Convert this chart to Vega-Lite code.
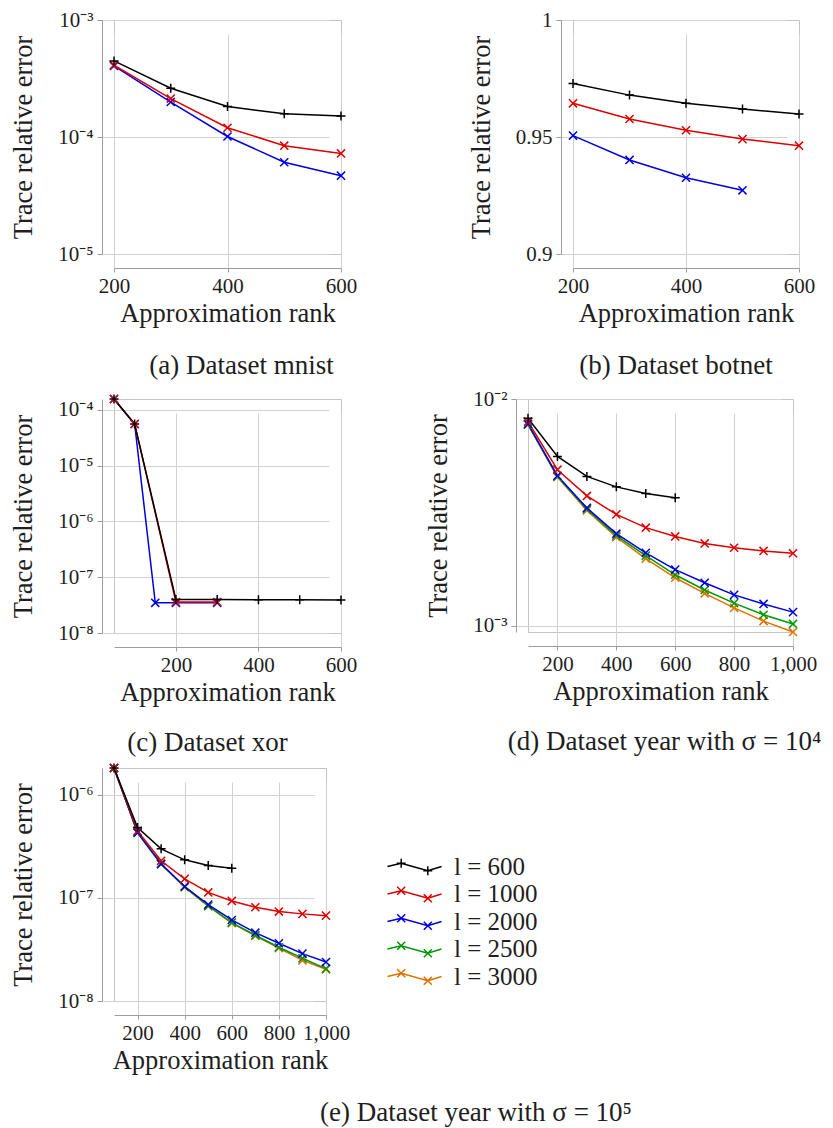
{
  "$schema": "https://vega.github.io/schema/vega-lite/v6.json",
  "padding": {"left": 10, "top": 8, "right": 5, "bottom": 5},
  "spacing": 8,
  "resolve": {"scale": {"color": "independent", "shape": "independent"}, "legend": {"color": "independent", "shape": "independent"}},
  "datasets": {
    "mnist": [
      {"l": "2000", "rank": 200, "err": 4.05e-4}, {"l": "2000", "rank": 300, "err": 1.99e-4}, {"l": "2000", "rank": 400, "err": 1.01e-4}, {"l": "2000", "rank": 500, "err": 6.08e-5}, {"l": "2000", "rank": 600, "err": 4.67e-5},
      {"l": "1000", "rank": 200, "err": 4.12e-4}, {"l": "1000", "rank": 300, "err": 2.13e-4}, {"l": "1000", "rank": 400, "err": 1.20e-4}, {"l": "1000", "rank": 500, "err": 8.43e-5}, {"l": "1000", "rank": 600, "err": 7.24e-5},
      {"l": "600", "rank": 200, "err": 4.47e-4}, {"l": "600", "rank": 300, "err": 2.61e-4}, {"l": "600", "rank": 400, "err": 1.82e-4}, {"l": "600", "rank": 500, "err": 1.58e-4}, {"l": "600", "rank": 600, "err": 1.51e-4}
    ],
    "botnet": [
      {"l": "2000", "rank": 200, "err": 0.9506}, {"l": "2000", "rank": 300, "err": 0.9402}, {"l": "2000", "rank": 400, "err": 0.9326}, {"l": "2000", "rank": 500, "err": 0.9272},
      {"l": "1000", "rank": 200, "err": 0.9644}, {"l": "1000", "rank": 300, "err": 0.9577}, {"l": "1000", "rank": 400, "err": 0.9529}, {"l": "1000", "rank": 500, "err": 0.9491}, {"l": "1000", "rank": 600, "err": 0.9463},
      {"l": "600", "rank": 200, "err": 0.9729}, {"l": "600", "rank": 300, "err": 0.9679}, {"l": "600", "rank": 400, "err": 0.9644}, {"l": "600", "rank": 500, "err": 0.9620}, {"l": "600", "rank": 600, "err": 0.9598}
    ],
    "xor": [
      {"l": "2000", "rank": 50, "err": 1.57e-4}, {"l": "2000", "rank": 100, "err": 5.6e-5}, {"l": "2000", "rank": 150, "err": 3.48e-8}, {"l": "2000", "rank": 200, "err": 3.48e-8}, {"l": "2000", "rank": 300, "err": 3.48e-8},
      {"l": "1000", "rank": 50, "err": 1.57e-4}, {"l": "1000", "rank": 100, "err": 5.6e-5}, {"l": "1000", "rank": 200, "err": 3.6e-8}, {"l": "1000", "rank": 300, "err": 3.6e-8},
      {"l": "600", "rank": 50, "err": 1.57e-4}, {"l": "600", "rank": 100, "err": 5.6e-5}, {"l": "600", "rank": 200, "err": 4.0e-8}, {"l": "600", "rank": 300, "err": 4.0e-8}, {"l": "600", "rank": 400, "err": 3.95e-8}, {"l": "600", "rank": 500, "err": 3.95e-8}, {"l": "600", "rank": 600, "err": 3.9e-8}
    ],
    "year4": [
      {"l": "3000", "rank": 100, "err": 7.7e-3}, {"l": "3000", "rank": 200, "err": 4.53e-3}, {"l": "3000", "rank": 300, "err": 3.23e-3}, {"l": "3000", "rank": 400, "err": 2.46e-3}, {"l": "3000", "rank": 500, "err": 1.98e-3}, {"l": "3000", "rank": 600, "err": 1.63e-3}, {"l": "3000", "rank": 700, "err": 1.39e-3}, {"l": "3000", "rank": 800, "err": 1.20e-3}, {"l": "3000", "rank": 900, "err": 1.05e-3}, {"l": "3000", "rank": 1000, "err": 9.4e-4},
      {"l": "2500", "rank": 100, "err": 7.72e-3}, {"l": "2500", "rank": 200, "err": 4.55e-3}, {"l": "2500", "rank": 300, "err": 3.27e-3}, {"l": "2500", "rank": 400, "err": 2.50e-3}, {"l": "2500", "rank": 500, "err": 2.04e-3}, {"l": "2500", "rank": 600, "err": 1.68e-3}, {"l": "2500", "rank": 700, "err": 1.44e-3}, {"l": "2500", "rank": 800, "err": 1.26e-3}, {"l": "2500", "rank": 900, "err": 1.12e-3}, {"l": "2500", "rank": 1000, "err": 1.02e-3},
      {"l": "2000", "rank": 100, "err": 7.77e-3}, {"l": "2000", "rank": 200, "err": 4.59e-3}, {"l": "2000", "rank": 300, "err": 3.31e-3}, {"l": "2000", "rank": 400, "err": 2.55e-3}, {"l": "2000", "rank": 500, "err": 2.10e-3}, {"l": "2000", "rank": 600, "err": 1.77e-3}, {"l": "2000", "rank": 700, "err": 1.55e-3}, {"l": "2000", "rank": 800, "err": 1.37e-3}, {"l": "2000", "rank": 900, "err": 1.25e-3}, {"l": "2000", "rank": 1000, "err": 1.15e-3},
      {"l": "1000", "rank": 100, "err": 7.95e-3}, {"l": "1000", "rank": 200, "err": 4.88e-3}, {"l": "1000", "rank": 300, "err": 3.74e-3}, {"l": "1000", "rank": 400, "err": 3.10e-3}, {"l": "1000", "rank": 500, "err": 2.71e-3}, {"l": "1000", "rank": 600, "err": 2.48e-3}, {"l": "1000", "rank": 700, "err": 2.31e-3}, {"l": "1000", "rank": 800, "err": 2.21e-3}, {"l": "1000", "rank": 900, "err": 2.14e-3}, {"l": "1000", "rank": 1000, "err": 2.09e-3},
      {"l": "600", "rank": 100, "err": 8.23e-3}, {"l": "600", "rank": 200, "err": 5.58e-3}, {"l": "600", "rank": 300, "err": 4.56e-3}, {"l": "600", "rank": 400, "err": 4.10e-3}, {"l": "600", "rank": 500, "err": 3.83e-3}, {"l": "600", "rank": 600, "err": 3.67e-3}
    ],
    "year5": [
      {"l": "3000", "rank": 100, "err": 1.82e-6}, {"l": "3000", "rank": 200, "err": 4.28e-7}, {"l": "3000", "rank": 300, "err": 2.12e-7}, {"l": "3000", "rank": 400, "err": 1.27e-7}, {"l": "3000", "rank": 500, "err": 8.3e-8}, {"l": "3000", "rank": 600, "err": 5.7e-8}, {"l": "3000", "rank": 700, "err": 4.28e-8}, {"l": "3000", "rank": 800, "err": 3.26e-8}, {"l": "3000", "rank": 900, "err": 2.48e-8}, {"l": "3000", "rank": 1000, "err": 2.03e-8},
      {"l": "2500", "rank": 100, "err": 1.82e-6}, {"l": "2500", "rank": 200, "err": 4.3e-7}, {"l": "2500", "rank": 300, "err": 2.13e-7}, {"l": "2500", "rank": 400, "err": 1.28e-7}, {"l": "2500", "rank": 500, "err": 8.35e-8}, {"l": "2500", "rank": 600, "err": 5.76e-8}, {"l": "2500", "rank": 700, "err": 4.34e-8}, {"l": "2500", "rank": 800, "err": 3.32e-8}, {"l": "2500", "rank": 900, "err": 2.6e-8}, {"l": "2500", "rank": 1000, "err": 2.06e-8},
      {"l": "2000", "rank": 100, "err": 1.82e-6}, {"l": "2000", "rank": 200, "err": 4.3e-7}, {"l": "2000", "rank": 300, "err": 2.14e-7}, {"l": "2000", "rank": 400, "err": 1.29e-7}, {"l": "2000", "rank": 500, "err": 8.61e-8}, {"l": "2000", "rank": 600, "err": 6.11e-8}, {"l": "2000", "rank": 700, "err": 4.6e-8}, {"l": "2000", "rank": 800, "err": 3.63e-8}, {"l": "2000", "rank": 900, "err": 2.88e-8}, {"l": "2000", "rank": 1000, "err": 2.39e-8},
      {"l": "1000", "rank": 100, "err": 1.82e-6}, {"l": "1000", "rank": 200, "err": 4.47e-7}, {"l": "1000", "rank": 300, "err": 2.29e-7}, {"l": "1000", "rank": 400, "err": 1.53e-7}, {"l": "1000", "rank": 500, "err": 1.13e-7}, {"l": "1000", "rank": 600, "err": 9.35e-8}, {"l": "1000", "rank": 700, "err": 8.12e-8}, {"l": "1000", "rank": 800, "err": 7.37e-8}, {"l": "1000", "rank": 900, "err": 7.0e-8}, {"l": "1000", "rank": 1000, "err": 6.73e-8},
      {"l": "600", "rank": 100, "err": 1.82e-6}, {"l": "600", "rank": 200, "err": 4.82e-7}, {"l": "600", "rank": 300, "err": 2.99e-7}, {"l": "600", "rank": 400, "err": 2.34e-7}, {"l": "600", "rank": 500, "err": 2.06e-7}, {"l": "600", "rank": 600, "err": 1.94e-7}
    ]
  },
  "vconcat": [
    {
      "hconcat": [
        {
          "width": 227, "height": 234,
          "data": {"name": "mnist"},
          "title": {"text": "(a) Dataset mnist", "dx": 14},
          "encoding": {
            "x": {"field": "rank", "type": "quantitative", "scale": {"domain": [200, 600], "nice": false, "zero": false}, "axis": {"values": [200, 400, 600], "title": "Approximation rank"}},
            "y": {"field": "err", "type": "quantitative", "scale": {"type": "log", "domain": [1e-5, 1e-3], "nice": false}, "axis": {"values": [1e-5, 1e-4, 1e-3], "labelExpr": "'10⁻' + substring('⁰¹²³⁴⁵⁶⁷⁸⁹', -round(log(datum.value) / LN10), 1 - round(log(datum.value) / LN10))", "title": "Trace relative error"}},
            "color": {"field": "l", "type": "nominal", "scale": {"domain": ["600", "1000", "2000", "2500", "3000"], "range": ["#000000", "#dd0000", "#0000dd", "#009a00", "#e07000"]}, "legend": null}
          },
          "layer": [
            {"mark": {"type": "line", "strokeWidth": 1.5}},
            {"mark": {"type": "point", "filled": false, "strokeWidth": 1.5, "size": 81, "opacity": 1}, "encoding": {"shape": {"field": "l", "type": "nominal", "scale": {"domain": ["600", "1000", "2000", "2500", "3000"], "range": ["M-1,0L1,0M0,-1L0,1", "M-0.9,-0.9L0.9,0.9M-0.9,0.9L0.9,-0.9", "M-0.9,-0.9L0.9,0.9M-0.9,0.9L0.9,-0.9", "M-0.9,-0.9L0.9,0.9M-0.9,0.9L0.9,-0.9", "M-0.9,-0.9L0.9,0.9M-0.9,0.9L0.9,-0.9"]}, "legend": null}}}
          ]
        },
        {
          "width": 226, "height": 234,
          "data": {"name": "botnet"},
          "title": {"text": "(b) Dataset botnet", "dx": -10},
          "encoding": {
            "x": {"field": "rank", "type": "quantitative", "scale": {"domain": [200, 600], "nice": false, "zero": false}, "axis": {"values": [200, 400, 600], "title": "Approximation rank"}},
            "y": {"field": "err", "type": "quantitative", "scale": {"domain": [0.9, 1], "nice": false, "zero": false}, "axis": {"values": [0.9, 0.95, 1], "format": "~g", "title": "Trace relative error"}},
            "color": {"field": "l", "type": "nominal", "scale": {"domain": ["600", "1000", "2000", "2500", "3000"], "range": ["#000000", "#dd0000", "#0000dd", "#009a00", "#e07000"]}, "legend": null}
          },
          "layer": [
            {"mark": {"type": "line", "strokeWidth": 1.5}},
            {"mark": {"type": "point", "filled": false, "strokeWidth": 1.5, "size": 81, "opacity": 1}, "encoding": {"shape": {"field": "l", "type": "nominal", "scale": {"domain": ["600", "1000", "2000", "2500", "3000"], "range": ["M-1,0L1,0M0,-1L0,1", "M-0.9,-0.9L0.9,0.9M-0.9,0.9L0.9,-0.9", "M-0.9,-0.9L0.9,0.9M-0.9,0.9L0.9,-0.9", "M-0.9,-0.9L0.9,0.9M-0.9,0.9L0.9,-0.9", "M-0.9,-0.9L0.9,0.9M-0.9,0.9L0.9,-0.9"]}, "legend": null}}}
          ]
        }
      ],
      "spacing": 109,
      "resolve": {"scale": {"color": "independent", "shape": "independent"}, "legend": {"color": "independent", "shape": "independent"}}
    },
    {
      "vconcat": [
        {
          "hconcat": [
            {
              "width": 227, "height": 234,
              "data": {"name": "xor"},
              "title": {"text": "(c) Dataset xor", "dx": -20, "offset": 24},
              "encoding": {
                "x": {"field": "rank", "type": "quantitative", "scale": {"domain": [50, 600], "nice": false, "zero": false}, "axis": {"values": [200, 400, 600], "title": "Approximation rank"}},
                "y": {"field": "err", "type": "quantitative", "scale": {"type": "log", "domain": [1e-8, 1.57e-4], "nice": false}, "axis": {"values": [1e-8, 1e-7, 1e-6, 1e-5, 1e-4], "labelExpr": "'10⁻' + substring('⁰¹²³⁴⁵⁶⁷⁸⁹', -round(log(datum.value) / LN10), 1 - round(log(datum.value) / LN10))", "title": "Trace relative error"}},
                "color": {"field": "l", "type": "nominal", "scale": {"domain": ["600", "1000", "2000", "2500", "3000"], "range": ["#000000", "#dd0000", "#0000dd", "#009a00", "#e07000"]}, "legend": null}
              },
              "layer": [
                {"mark": {"type": "line", "strokeWidth": 1.5}},
                {"mark": {"type": "point", "filled": false, "strokeWidth": 1.5, "size": 81, "opacity": 1}, "encoding": {"shape": {"field": "l", "type": "nominal", "scale": {"domain": ["600", "1000", "2000", "2500", "3000"], "range": ["M-1,0L1,0M0,-1L0,1", "M-0.9,-0.9L0.9,0.9M-0.9,0.9L0.9,-0.9", "M-0.9,-0.9L0.9,0.9M-0.9,0.9L0.9,-0.9", "M-0.9,-0.9L0.9,0.9M-0.9,0.9L0.9,-0.9", "M-0.9,-0.9L0.9,0.9M-0.9,0.9L0.9,-0.9"]}, "legend": null}}}
              ]
            },
            {
              "width": 265, "height": 233,
              "data": {"name": "year4"},
              "title": {"text": "(d) Dataset year with σ = 10⁴", "dx": 4, "offset": 24},
              "encoding": {
                "x": {"field": "rank", "type": "quantitative", "scale": {"domain": [100, 1000], "nice": false, "zero": false}, "axis": {"values": [200, 400, 600, 800, 1000], "format": ",d", "title": "Approximation rank"}},
                "y": {"field": "err", "type": "quantitative", "scale": {"type": "log", "domain": [9.4e-4, 1e-2], "nice": false}, "axis": {"values": [1e-3, 1e-2], "labelExpr": "'10⁻' + substring('⁰¹²³⁴⁵⁶⁷⁸⁹', -round(log(datum.value) / LN10), 1 - round(log(datum.value) / LN10))", "title": "Trace relative error"}},
                "color": {"field": "l", "type": "nominal", "scale": {"domain": ["600", "1000", "2000", "2500", "3000"], "range": ["#000000", "#dd0000", "#0000dd", "#009a00", "#e07000"]}, "legend": null}
              },
              "layer": [
                {"mark": {"type": "line", "strokeWidth": 1.5}},
                {"mark": {"type": "point", "filled": false, "strokeWidth": 1.5, "size": 81, "opacity": 1}, "encoding": {"shape": {"field": "l", "type": "nominal", "scale": {"domain": ["600", "1000", "2000", "2500", "3000"], "range": ["M-1,0L1,0M0,-1L0,1", "M-0.9,-0.9L0.9,0.9M-0.9,0.9L0.9,-0.9", "M-0.9,-0.9L0.9,0.9M-0.9,0.9L0.9,-0.9", "M-0.9,-0.9L0.9,0.9M-0.9,0.9L0.9,-0.9", "M-0.9,-0.9L0.9,0.9M-0.9,0.9L0.9,-0.9"]}, "legend": null}}}
              ]
            }
          ],
          "spacing": 67,
          "resolve": {"scale": {"color": "independent", "shape": "independent"}, "legend": {"color": "independent", "shape": "independent"}}
        },
        {
          "width": 212, "height": 233,
          "data": {"name": "year5"},
          "title": {"text": "(e) Dataset year with σ = 10⁵", "dx": 256},
          "encoding": {
            "x": {"field": "rank", "type": "quantitative", "scale": {"domain": [100, 1000], "nice": false, "zero": false}, "axis": {"values": [200, 400, 600, 800, 1000], "format": ",d", "title": "Approximation rank"}},
            "y": {"field": "err", "type": "quantitative", "scale": {"type": "log", "domain": [1e-8, 1.82e-6], "nice": false}, "axis": {"values": [1e-8, 1e-7, 1e-6], "labelExpr": "'10⁻' + substring('⁰¹²³⁴⁵⁶⁷⁸⁹', -round(log(datum.value) / LN10), 1 - round(log(datum.value) / LN10))", "title": "Trace relative error"}},
            "color": {
              "field": "l", "type": "nominal",
              "scale": {"domain": ["600", "1000", "2000", "2500", "3000"], "range": ["#000000", "#dd0000", "#0000dd", "#009a00", "#e07000"]},
              "legend": {
                "orient": "none", "legendX": 288, "legendY": 86, "title": null, "padding": 0,
                "labelExpr": "'l = ' + datum.label", "labelFont": "Liberation Serif", "labelFontSize": 25, "labelColor": "#1e1e1e",
                "symbolSize": 400, "symbolStrokeWidth": 1.5, "labelOffset": 27, "rowPadding": 1.5,
                "symbolType": "M-2.7,0L-1.33,-0.33L1.33,0.43L2.7,0",
                "encode": {"symbols": {"update": {
                  "fill": {"value": "transparent"},
                  "shape": {"signal": "datum.value === '600' ? 'M-2.7,0L-1.33,-0.33L1.33,0.43L2.7,0M-1.78,-0.33L-0.88,-0.33M-1.33,-0.78L-1.33,0.12M0.88,0.43L1.78,0.43M1.33,-0.02L1.33,0.88' : 'M-2.7,0L-1.33,-0.33L1.33,0.43L2.7,0M-1.73,-0.73L-0.93,0.07M-1.73,0.07L-0.93,-0.73M0.93,0.03L1.73,0.83M0.93,0.83L1.73,0.03'"}
                }}}
              }
            }
          },
          "layer": [
            {"mark": {"type": "line", "strokeWidth": 1.5}},
            {
              "transform": [{"calculate": "datum.l === '600' ? 'plus' : 'cross'", "as": "marker"}],
              "mark": {"type": "point", "filled": false, "strokeWidth": 1.5, "size": 81, "opacity": 1},
              "encoding": {"shape": {"field": "marker", "type": "nominal", "scale": {"domain": ["plus", "cross"], "range": ["M-1,0L1,0M0,-1L0,1", "M-0.9,-0.9L0.9,0.9M-0.9,0.9L0.9,-0.9"]}, "legend": null}}
            }
          ]
        }
      ],
      "spacing": 4,
      "resolve": {"scale": {"color": "independent", "shape": "independent"}, "legend": {"color": "independent", "shape": "independent"}}
    }
  ],
  "config": {
    "font": "Liberation Serif",
    "view": {"stroke": "#c4c4c4", "strokeWidth": 1},
    "axis": {
      "labelFont": "Liberation Serif", "labelFontSize": 21, "labelColor": "#1e1e1e",
      "titleFont": "Liberation Serif", "titleFontSize": 26.5, "titleFontWeight": "normal", "titleColor": "#1e1e1e",
      "domainColor": "#9c9c9c", "tickColor": "#9c9c9c", "gridColor": "#d2d2d2",
      "labelFlush": false, "labelOverlap": false, "grid": true
    },
    "axisX": {"offset": 14, "tickSize": 4, "labelPadding": 3, "titlePadding": 4},
    "axisY": {"offset": 12, "tickSize": 5, "labelPadding": 4, "titlePadding": 20},
    "title": {"orient": "bottom", "anchor": "middle", "frame": "group", "font": "Liberation Serif", "fontSize": 27, "fontWeight": "normal", "color": "#1e1e1e", "offset": 26}
  }
}
